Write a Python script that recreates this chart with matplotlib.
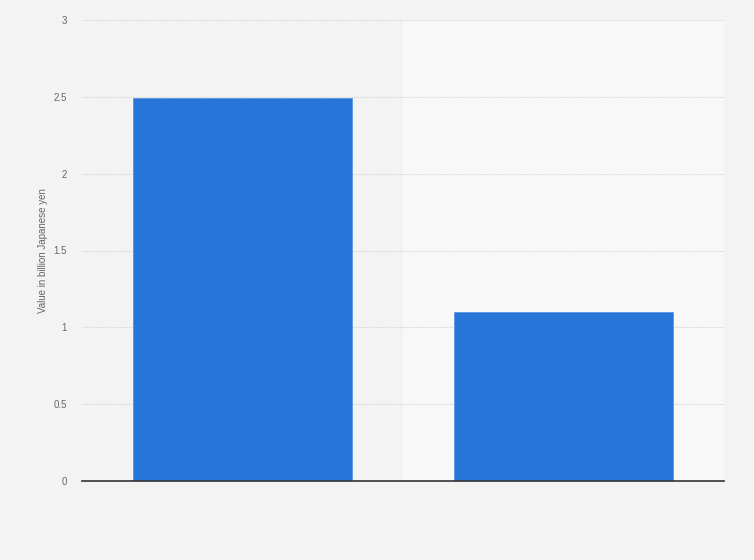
import matplotlib
matplotlib.use("Agg")
import matplotlib.pyplot as plt

plt.rcParams["font.family"] = ["Liberation Sans", "DejaVu Sans"]

categories = ["Category A", "Category B"]
values = [2.49, 1.1]
yticks = [0, 0.5, 1, 1.5, 2, 2.5, 3]
ytick_labels = ["0", "0.5", "1", "1.5", "2", "2.5", "3"]

fig = plt.figure(figsize=(7.54, 5.6), dpi=100)
fig.patch.set_facecolor("#f3f3f3")
ax = fig.add_axes([82/754, 1-481/560, (724-82)/754, (481-20)/560])
ax.set_facecolor("#f3f3f3")

x = list(range(len(categories)))
# alternating bands
ax.axvspan(0.5, 1.5, color="#f8f8f8", zorder=0, lw=0)
ax.bar(x, values, width=0.685, color="#2775d9", zorder=3, edgecolor="#5b95e3", linewidth=0.6)

ax.set_xlim(-0.5, 1.5)
ax.set_ylim(0, 3)
ax.set_yticks(yticks)
ax.set_yticklabels(ytick_labels, fontsize=7, color="#666666")
ax.set_xticks([])
ax.tick_params(axis="y", length=0, pad=11)
ax.grid(axis="y", color="#d4d4d4", linestyle=(0, (1, 1)), linewidth=0.8, zorder=1)
for s in ["top", "right", "left"]:
    ax.spines[s].set_visible(False)
ax.spines["bottom"].set_color("#333333")
ax.spines["bottom"].set_linewidth(1.2)
ax.spines["bottom"].set_zorder(4)

ax.set_ylabel("Value in billion Japanese yen", fontsize=7, color="#666666", labelpad=4)

fig.savefig("out.png", dpi=100, facecolor=fig.get_facecolor())
